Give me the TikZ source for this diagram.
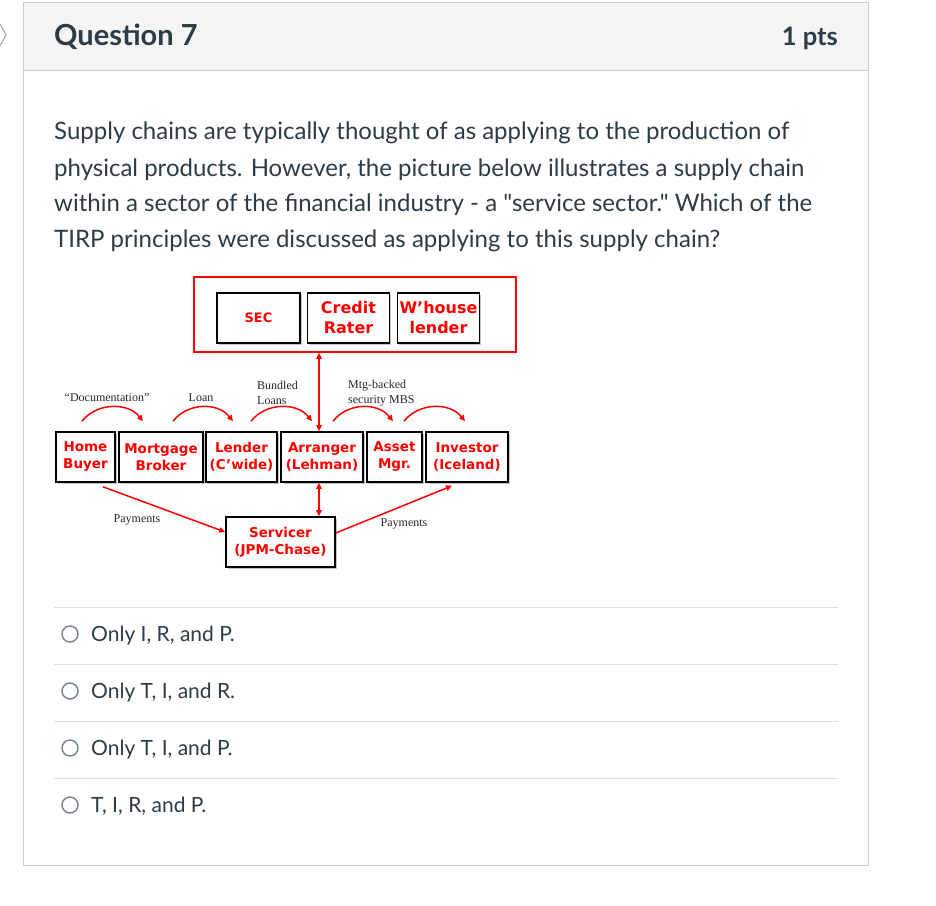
\documentclass[tikz,border=0pt]{standalone}
\usepackage{fontspec}
\setmainfont{Lato}[Ligatures=TeXOff]
\newfontfamily\boxfont{DejaVu Sans}
\newfontfamily\labfont{Liberation Serif}
\usetikzlibrary{arrows.meta,shadows,calc}
\definecolor{txt}{HTML}{2D3B45}
\definecolor{cardline}{HTML}{C7CDD1}
\definecolor{hdr}{HTML}{F5F5F5}
\definecolor{sep}{HTML}{E0E0E0}
\definecolor{radio}{HTML}{73818C}
\tikzset{
  fbox/.style={draw=black,line width=1.6pt,fill=white,inner sep=0pt,align=center,
    text=red,font=\boxfont\bfseries\fontsize{13.5}{17}\selectfont,minimum height=50pt,
    drop shadow={shadow xshift=1.5pt,shadow yshift=-1.5pt,fill=black!45}},
  tbox/.style={fbox,font=\boxfont\bfseries\fontsize{16}{20}\selectfont},
  redarr/.style={red,line width=1.5pt,-{Triangle[length=6pt,width=5.5pt]}},
  dblarr/.style={red,line width=1.5pt,{Triangle[length=6pt,width=5.5pt]}-{Triangle[length=6pt,width=5.5pt]}},
  lab/.style={font=\labfont\fontsize{12}{15}\selectfont,text=black!85,inner sep=0pt},
  body/.style={font=\fontsize{24}{28}\selectfont,text=txt,anchor=base west,inner sep=0pt},
  opt/.style={font=\fontsize{21}{25}\selectfont,text=txt,anchor=base west,inner sep=0pt},
  radiobtn/.style={draw=radio,line width=1.4pt,circle,minimum size=16pt,inner sep=0pt},
}
\begin{document}
\begin{tikzpicture}[x=1pt,y=-1pt]
\useasboundingbox (0,0) rectangle (936,905);
% card
\fill[hdr] (23,2) rectangle (868,70);
\draw[cardline,line width=1pt] (23,2) rectangle (868,865);
\draw[cardline,line width=1pt] (23,70) -- (868,70);
\draw[cardline!80!black,line width=1pt] (0,24) -- (6,35) -- (0,46);
\node[font=\bfseries\fontsize{29}{34}\selectfont,text=txt,anchor=base west,inner sep=0pt] (qt) at (54,45) {Question 7};
\node[font=\bfseries\fontsize{25.5}{30}\selectfont,text=txt,anchor=base east,inner sep=0pt] (pts) at (838,45) {1 pts};
% body
\node[body] (l1) at (54,139) {Supply chains are typically thought of as applying to the production of};
\node[body] (l2) at (54,176) {physical products. However, the picture below illustrates a supply chain};
\node[body] (l3) at (54,211) {within a sector of the financial industry - a "service sector." Which of the};
\node[body] (l4) at (54,247) {TIRP principles were discussed as applying to this supply chain?};
% diagram top
\node[draw=red,line width=1.6pt,minimum width=322pt,minimum height=75pt,inner sep=0pt] (frame) at (355,314.5) {};
\node[fbox,minimum width=83pt,font=\boxfont\bfseries\fontsize{13}{16}\selectfont] (sec) at (258.5,318) {SEC};
\node[tbox,minimum width=82pt] (cr) at (348.5,318) {Credit\\Rater};
\node[tbox,minimum width=82pt] (wh) at (438.5,318) {W’house\\lender};
% middle row
\node[fbox,minimum width=59pt] (hb) at (85.5,457) {Home\\Buyer};
\node[fbox,minimum width=84pt] (mb) at (161,457) {Mortgage\\Broker};
\node[fbox,minimum width=71pt] (lc) at (241.5,457) {Lender\\(C’wide)};
\node[fbox,minimum width=82pt] (ar) at (322,457) {Arranger\\(Lehman)};
\node[fbox,minimum width=55pt] (am) at (394.5,457) {Asset\\Mgr.};
\node[fbox,minimum width=82pt] (inv) at (467,457) {Investor\\(Iceland)};
\node[fbox,minimum width=109pt] (sv) at (280.5,542) {Servicer\\(JPM-Chase)};
% curved arrows
\draw[redarr] ([shift={(-3.5,-10)}]hb.north) .. controls +(15,-19) and +(-15,-19) .. ([shift={(-18,-10)}]mb.north);
\draw[redarr] ([shift={(12,-10)}]mb.north) .. controls +(15,-19) and +(-15,-19) .. ([shift={(-8.5,-10)}]lc.north);
\draw[redarr] ([shift={(9.5,-10)}]lc.north) .. controls +(15,-19) and +(-15,-19) .. ([shift={(-10,-10)}]ar.north);
\draw[redarr] ([shift={(11,-10)}]ar.north) .. controls +(15,-19) and +(-15,-19) .. ([shift={(-1.5,-10)}]am.north);
\draw[redarr] ([shift={(9.5,-10)}]am.north) .. controls +(15,-19) and +(-15,-19) .. ([shift={(-2,-10)}]inv.north);
% vertical arrows
\draw[dblarr] ([xshift=-3pt]ar.north |- frame.south) -- ([xshift=-3pt]ar.north);
\draw[dblarr] ([xshift=-3pt]ar.south) -- ([xshift=-3pt]ar.south |- sv.north);
% payments
\draw[redarr] ([shift={(17.5,4)}]hb.south) -- ([shift={(0,-10)}]sv.west);
\draw[redarr] ([shift={(0,-9)}]sv.east) -- ([shift={(-15,3)}]inv.south);
% labels
\node[lab] (ldoc) at (107,398) {“Documentation”};
\node[lab] (lloan) at (201,398) {Loan};
\node[lab,anchor=west,align=left] (lbund) at (257,393) {Bundled\\Loans};
\node[lab,anchor=west,align=left] (lmbs) at (348,393) {Mtg-backed\\security MBS};
\node[lab] (lpay1) at (137,520) {Payments};
\node[lab] (lpay2) at (404,524) {Payments};
% options
\foreach \y in {607,664,721,778} \draw[sep,line width=1pt] (54,\y) -- (838,\y);
\node[radiobtn] (r1) at (70,634) {};
\node[radiobtn] (r2) at (70,691) {};
\node[radiobtn] (r3) at (70,748) {};
\node[radiobtn] (r4) at (70,805) {};
\node[opt] (o1) at (91,641) {Only I, R, and P.};
\node[opt] (o2) at (91,698) {Only T, I, and R.};
\node[opt] (o3) at (91,755) {Only T, I, and P.};
\node[opt] (o4) at (91,812) {T, I, R, and P.};
\end{tikzpicture}
\end{document}
